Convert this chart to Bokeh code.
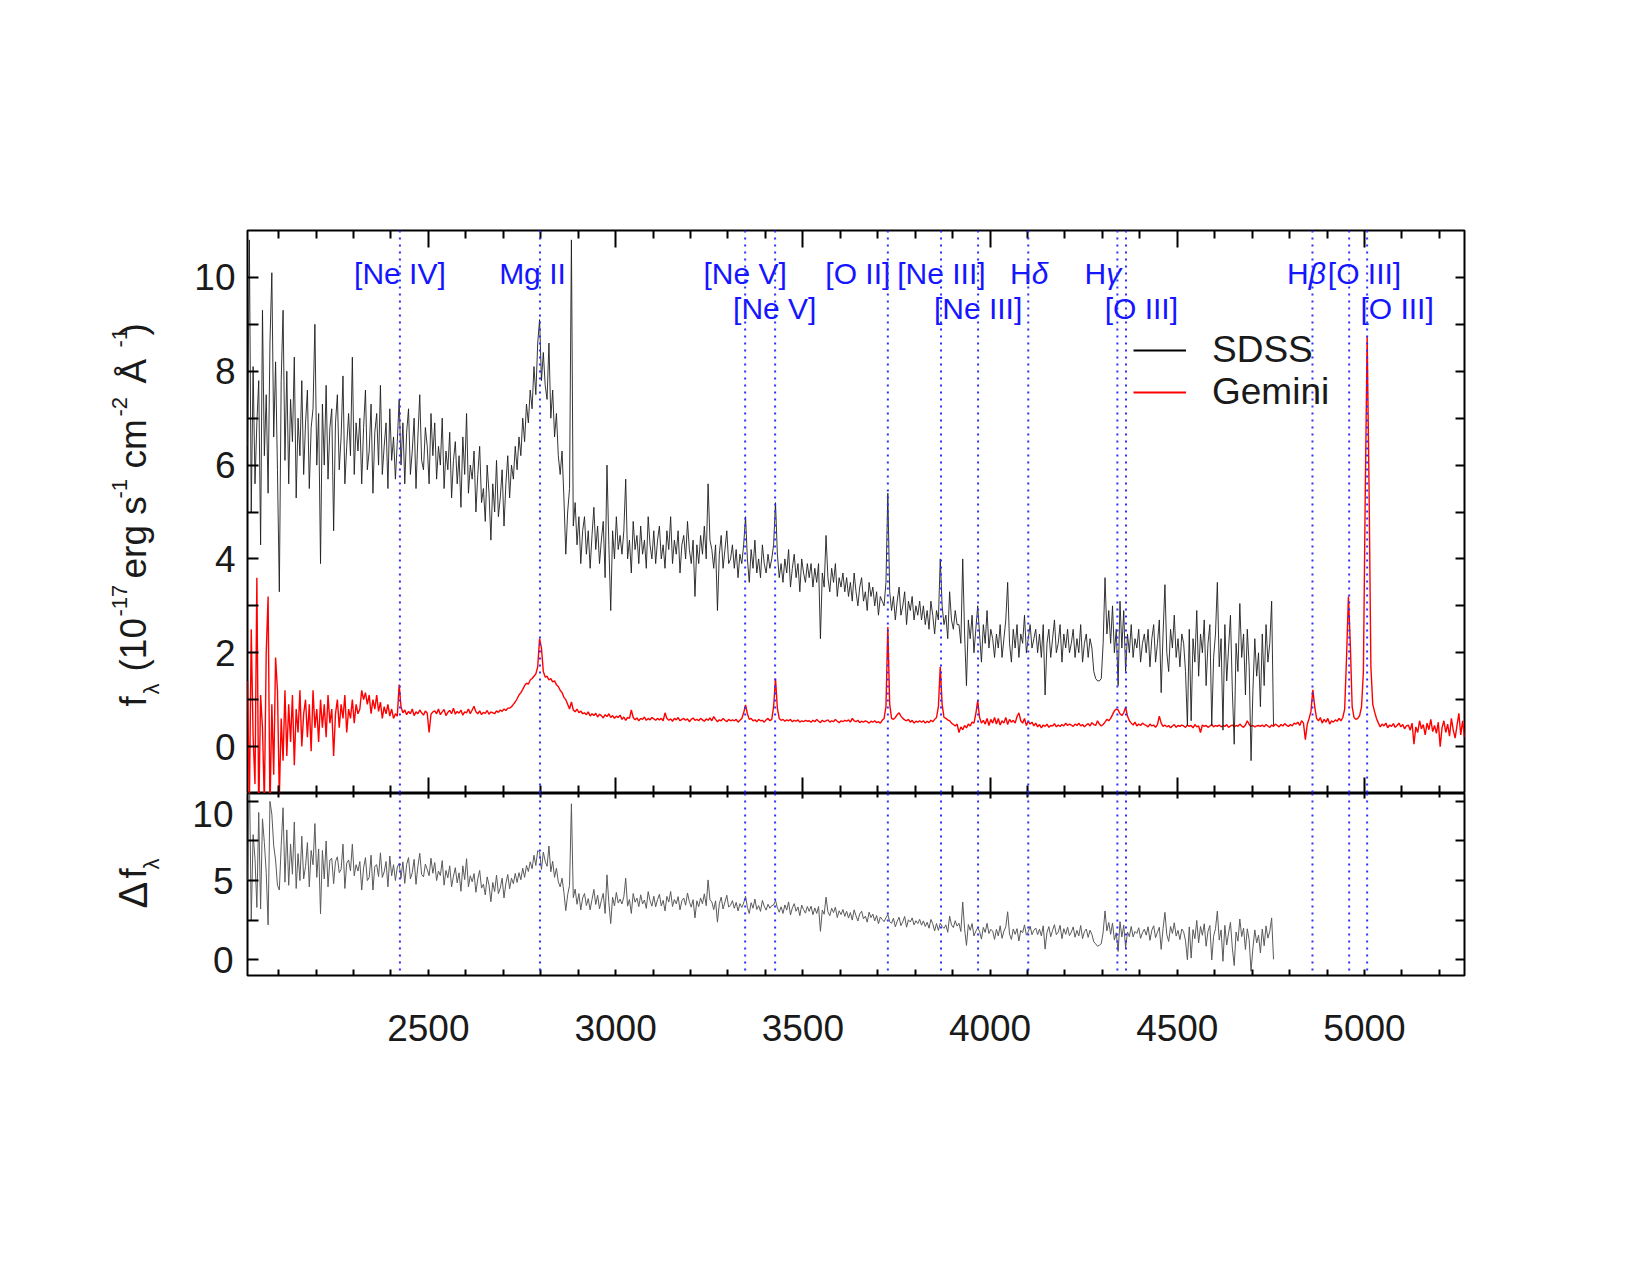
import numpy as np
from bokeh.plotting import figure
from bokeh.layouts import column, row
from bokeh.models import (LinearAxis, FixedTicker, Span, Legend, LegendItem,
                          ColumnDataSource, Range1d, CustomLabelingPolicy)
from bokeh.embed import file_html
from bokeh.resources import INLINE
from bokeh.core.properties import value

# ---------------- data ----------------
WAVE_START = 2017   # Angstrom, first sample
WAVE_STEP = 5       # Angstrom per sample

sdss_flux = [
    6.4, 10.8, 5.0, 8.1, 5.6, 6.9, 7.8, 4.3, 9.3, 6.2, 7.5, 5.4, 8.6, 10.1, 6.6, 8.2, 5.9, 3.3, 7.8, 9.3,
    6.1, 8.0, 5.6, 7.4, 6.5, 8.3, 5.3, 7.0, 6.2, 7.8, 5.8, 6.9, 7.6, 5.5, 6.8, 7.2, 9.0, 6.0, 7.1, 3.9,
    7.3, 6.0, 7.7, 5.7, 6.8, 7.2, 4.6, 6.9, 7.5, 5.9, 6.6, 7.9, 5.6, 6.4, 7.1, 6.2, 8.3, 5.8, 6.9, 6.3,
    7.0, 5.6, 6.8, 7.6, 5.9, 6.3, 7.3, 5.4, 6.7, 7.1, 6.0, 7.7, 5.8, 6.4, 6.9, 5.5, 7.2, 6.1, 6.6, 5.7,
    6.5, 7.4, 6.0, 6.9, 5.6, 6.7, 7.2, 5.8, 6.3, 7.0, 5.5, 6.6, 7.5, 6.1, 5.9, 6.8, 6.4, 5.6, 7.1, 6.2,
    6.9, 5.7, 6.4, 6.0, 7.0, 5.5, 6.3, 5.9, 6.7, 5.3, 6.1, 6.5, 5.6, 6.2, 5.1, 6.6, 5.8, 7.1, 5.4, 6.0,
    5.7, 6.3, 5.0, 5.8, 6.4, 5.2, 5.5, 4.8, 6.0, 5.4, 4.4, 5.6, 5.0, 6.1, 4.9, 5.3, 5.9, 4.7, 5.6, 6.2,
    5.3, 6.0, 5.7, 6.4, 5.9, 6.6, 6.2, 7.0, 6.5, 7.3, 6.9, 7.6, 7.2, 8.1, 7.5, 8.6, 9.1, 7.8, 8.4, 7.7,
    7.4, 8.6, 7.0, 7.6, 6.6, 7.1, 6.2, 5.8, 6.3, 5.3, 4.1, 5.0, 5.5, 10.8, 4.7, 5.2, 4.3, 4.9, 3.9, 4.6,
    4.9, 4.1, 4.6, 3.8, 4.5, 5.1, 4.2, 4.7, 3.9, 4.4, 4.8, 3.6, 6.0, 4.3, 2.9, 4.6, 4.0, 4.9, 4.2, 4.5,
    4.1, 4.6, 5.7, 4.0, 4.4, 3.7, 4.8, 4.2, 4.5, 3.9, 4.7, 4.1, 4.4, 3.8, 4.9, 4.3, 4.0, 4.6, 3.9, 4.4,
    4.7, 4.0, 4.3, 3.8, 4.6, 4.2, 4.9, 3.9, 4.4, 4.1, 4.6, 3.7, 4.3, 4.5, 4.0, 4.8, 4.2, 3.9, 4.4, 3.2,
    4.3, 3.9, 4.5, 4.1, 4.7, 4.0, 5.6, 4.4, 4.2, 3.8, 4.3, 2.9, 4.1, 4.5, 3.8, 4.2, 4.6, 3.9, 4.0, 4.3,
    3.8, 4.2, 3.6, 4.1, 3.9, 4.3, 4.9, 4.0, 3.5, 4.2, 3.8, 4.4, 3.7, 4.0, 3.6, 4.3, 3.9, 3.7, 4.1, 3.8,
    4.0, 4.3, 5.2, 4.1, 3.6, 3.9, 3.5, 4.0, 3.7, 4.2, 3.4, 3.8, 4.1, 3.6, 3.9, 3.3, 4.0, 3.7, 3.5, 3.9,
    3.6, 3.9, 3.4, 3.8, 3.5, 3.9, 2.3, 3.7, 3.4, 4.5, 3.6, 3.3, 3.8, 3.5, 3.9, 3.2, 3.6, 3.4, 3.7, 3.3,
    3.6, 3.2, 3.5, 3.1, 3.7, 3.3, 3.0, 3.4, 3.6, 3.1, 3.3, 2.9, 3.5, 3.2, 3.4, 3.0, 3.3, 2.8, 3.2, 3.1,
    3.0, 3.5, 5.4, 3.3, 2.9, 3.2, 2.7, 3.1, 3.4, 2.8, 3.0, 3.3, 2.6, 3.1, 2.9, 3.2, 2.7, 3.0, 2.8, 3.1,
    2.7, 3.0, 2.6, 2.9, 2.5, 3.1, 2.8, 2.4, 2.9, 2.7, 4.0, 3.0, 2.6, 2.8, 2.3, 3.3, 2.7, 2.5, 2.9, 2.6,
    2.6, 2.2, 4.0, 2.4, 1.3, 2.7, 2.3, 2.8, 2.0, 2.5, 3.0, 2.4, 1.8, 2.6, 2.2, 2.9, 2.1, 2.5, 2.3, 1.9,
    2.4, 2.1, 2.6, 1.9, 2.3, 2.7, 3.5, 2.2, 1.8, 2.5, 2.1, 2.6, 1.9, 2.4, 2.2, 2.8, 2.0, 2.3, 2.6, 2.1,
    2.3, 2.5, 2.0, 2.4, 1.9, 2.6, 1.1, 2.2, 2.5, 1.9, 2.3, 2.7, 2.0, 2.2, 2.6, 1.8, 2.4, 2.1, 2.5, 2.0,
    2.2, 2.5, 1.9, 2.3, 2.0, 2.6, 1.8, 2.2, 2.4, 1.9, 2.3, 2.1, 1.6, 1.45, 1.4, 1.4, 1.45, 2.2, 3.6, 2.4,
    2.9, 2.2, 3.0, 2.0, 2.5, 1.3, 3.1, 2.1, 2.9, 1.6, 2.4, 2.0, 2.6, 1.9, 2.3, 2.1, 2.5, 1.8, 2.2, 2.4,
    2.0, 2.5, 1.7, 2.3, 2.6, 1.8, 2.2, 2.7, 1.15, 2.4, 3.45, 2.0, 1.6, 2.5, 2.1, 2.8, 1.9, 2.3, 1.7, 2.4,
    2.2, 1.6, 0.45, 2.5, 0.55, 2.3, 1.8, 2.9, 1.5, 2.4, 2.0, 2.7, 1.3, 2.2, 2.6, 0.45, 1.9, 2.4, 3.5, 1.7,
    2.3, 0.35, 2.6, 1.4, 2.1, 2.8, 1.2, 0.05, 2.2, 1.6, 3.05, 1.9, 2.4, 1.1, 2.5, 1.7, -0.3, 1.2, 2.3, 1.5,
    2.0, 0.85, 2.4, 1.3, 2.6, 1.8, 2.2, 3.1, 0.45,
]

gemini_flux = [
    1.4, -1.3, 2.5, 0.2, -0.8, 3.6, -1.5, 1.1, 0.4, -1.2, 2.0, 3.2, -1.4, 0.9, -0.6, 1.9, 1.2, -1.1, 0.6, -0.3,
    1.2, -0.2, 0.9, 0.1, 1.1, -0.4, 0.8, 0.3, 1.2, 0.0, 0.7, 1.0, 0.2, 0.9, -0.1, 1.2, 0.4, 0.8, 0.1, 1.0,
    0.4, 0.9, 0.2, 1.1, 0.5, 0.8, -0.2, 0.7, 1.0, 0.4, 0.9, 0.6, 1.1, 0.3, 0.8, 0.6, 1.0, 0.5, 0.9, 0.7,
    0.8, 1.2, 1.0, 1.15, 0.9, 1.1, 0.7, 1.0, 0.8, 1.1, 0.75, 0.95, 0.6, 0.85, 0.7, 0.9, 0.65, 0.8, 0.6, 0.7,
    0.65, 1.32, 0.85, 0.72, 0.78, 0.68, 0.75, 0.7, 0.8, 0.66, 0.74, 0.7, 0.78, 0.72, 0.67, 0.76, 0.71, 0.3, 0.69, 0.74,
    0.76, 0.7, 0.8, 0.68, 0.74, 0.79, 0.66, 0.73, 0.77, 0.7, 0.82, 0.69, 0.75, 0.71, 0.78, 0.67, 0.74, 0.72, 0.8, 0.7,
    0.78, 0.86, 0.74, 0.7, 0.76, 0.68, 0.73, 0.71, 0.77, 0.69, 0.74, 0.72, 0.7, 0.76, 0.73, 0.78, 0.75, 0.8, 0.77, 0.82,
    0.82, 0.85, 0.9, 0.95, 1.02, 1.1, 1.15, 1.22, 1.3, 1.35, 1.33, 1.42, 1.45, 1.5, 1.55, 1.7, 2.3, 2.1, 1.6, 1.48,
    1.5, 1.42, 1.45, 1.38, 1.4, 1.32, 1.28, 1.2, 1.15, 1.05, 1.0, 0.9, 0.8, 0.95, 0.78, 0.74, 0.8, 0.72, 0.76, 0.7,
    0.72, 0.68, 0.74, 0.65, 0.7, 0.66, 0.71, 0.63, 0.69, 0.66, 0.61, 0.68, 0.64, 0.7, 0.62, 0.66, 0.6, 0.65, 0.62, 0.67,
    0.58, 0.63, 0.56, 0.62, 0.6, 0.78, 0.62, 0.57, 0.61, 0.55, 0.6, 0.58, 0.63, 0.56, 0.6, 0.57, 0.62, 0.59, 0.56, 0.6,
    0.57, 0.6, 0.55, 0.72, 0.6, 0.56, 0.59, 0.54, 0.6, 0.57, 0.62, 0.55, 0.58, 0.6, 0.56, 0.59, 0.53, 0.58, 0.61, 0.56,
    0.58, 0.55, 0.6, 0.57, 0.54, 0.59, 0.56, 0.61, 0.55, 0.64, 0.58, 0.53, 0.57, 0.55, 0.6, 0.56, 0.53, 0.58, 0.55, 0.57,
    0.55, 0.58, 0.52, 0.56, 0.6, 0.72, 0.89, 0.7, 0.58, 0.6, 0.55, 0.57, 0.53, 0.58, 0.55, 0.56, 0.52, 0.57, 0.6, 0.55,
    0.58, 0.85, 1.45, 0.82, 0.6, 0.56, 0.58, 0.54, 0.57, 0.55, 0.58, 0.53, 0.56, 0.54, 0.57, 0.52, 0.55, 0.53, 0.56, 0.54,
    0.55, 0.52, 0.56, 0.53, 0.58, 0.54, 0.51, 0.56, 0.53, 0.55, 0.57, 0.52, 0.55, 0.53, 0.58, 0.54, 0.51, 0.55, 0.53, 0.56,
    0.54, 0.57, 0.52, 0.6, 0.55, 0.53, 0.56, 0.51, 0.54, 0.52, 0.55, 0.53, 0.5, 0.54, 0.52, 0.55, 0.51, 0.53, 0.5, 0.56,
    0.6, 0.85, 2.55, 0.9, 0.6, 0.58, 0.62, 0.68, 0.72, 0.65, 0.6, 0.57, 0.55, 0.58, 0.52, 0.56, 0.5, 0.54, 0.52, 0.55,
    0.52, 0.55, 0.5, 0.54, 0.51, 0.56, 0.53, 0.58, 0.62, 0.85, 1.7, 0.9, 0.62, 0.6, 0.57, 0.55, 0.5, 0.47, 0.44, 0.48,
    0.3, 0.42, 0.36, 0.45, 0.4, 0.48, 0.44, 0.52, 0.5, 0.7, 0.98, 0.62, 0.5, 0.56, 0.48, 0.6, 0.45, 0.58, 0.5, 0.62,
    0.48, 0.6, 0.46, 0.55, 0.5, 0.62, 0.47, 0.58, 0.52, 0.56, 0.5, 0.64, 0.72, 0.55, 0.5, 0.6, 0.45, 0.54, 0.48, 0.52,
    0.44, 0.5, 0.42, 0.47, 0.4, 0.46, 0.43, 0.48, 0.41, 0.45, 0.44, 0.49, 0.42, 0.46, 0.43, 0.47, 0.44, 0.5, 0.45, 0.48,
    0.46, 0.43, 0.48, 0.45, 0.5, 0.44, 0.47, 0.42, 0.46, 0.49, 0.44, 0.51, 0.47, 0.45, 0.55, 0.48, 0.44, 0.47, 0.52, 0.58,
    0.55, 0.6, 0.68, 0.76, 0.8, 0.78, 0.7, 0.66, 0.72, 0.84, 0.65, 0.55, 0.5, 0.46, 0.52, 0.44, 0.48, 0.45, 0.5, 0.47,
    0.45, 0.42, 0.48, 0.44, 0.46, 0.41, 0.47, 0.65, 0.5, 0.43, 0.46, 0.42, 0.45, 0.4, 0.44, 0.47, 0.41, 0.45, 0.43, 0.46,
    0.44, 0.41, 0.46, 0.43, 0.45, 0.4, 0.47, 0.42, 0.44, 0.3, 0.46, 0.43, 0.45, 0.41, 0.44, 0.47, 0.42, 0.45, 0.43, 0.46,
    0.42, 0.45, 0.43, 0.47, 0.41, 0.44, 0.46, 0.42, 0.45, 0.43, 0.48, 0.44, 0.41, 0.46, 0.55, 0.47, 0.43, 0.45, 0.42, 0.44,
    0.45, 0.43, 0.46, 0.42, 0.47, 0.44, 0.41, 0.46, 0.43, 0.48, 0.45, 0.42, 0.47, 0.44, 0.49, 0.45, 0.43, 0.47, 0.44, 0.5,
    0.48, 0.52, 0.45, 0.55, 0.5, 0.15, 0.47, 0.6, 0.75, 1.21, 0.85, 0.6, 0.55, 0.62, 0.5, 0.58, 0.52, 0.6, 0.48, 0.55,
    0.52, 0.57, 0.54, 0.6, 0.55, 0.62, 0.8, 1.9, 3.2, 2.2, 0.85, 0.62, 0.58, 0.6, 0.66, 0.85, 1.6, 5.4, 8.75, 5.6,
    1.7, 0.9, 0.74, 0.6, 0.5, 0.42, 0.48, 0.44, 0.5, 0.4, 0.46, 0.43, 0.49, 0.41, 0.45, 0.5, 0.42, 0.47, 0.38, 0.44,
    0.46, 0.35, 0.5, 0.05, 0.42, 0.3, 0.55, 0.38, 0.47, 0.25, 0.5, 0.36, 0.58, 0.32, 0.45, 0.28, 0.52, 0.0, 0.4, 0.55,
    0.3, 0.48, 0.22, 0.6, 0.35, 0.18, 0.45, 0.71, 0.25, 0.55, 0.2,
]

# emission-line markers
line_names = ["[Ne IV]", "Mg II", "[Ne V]", "[Ne V]", "[O II]", "[Ne III]", "[Ne III]",
              "H", "H", "[O III]", "H", "[O III]", "[O III]"]
line_greek = ["", "", "", "", "", "", "", "\u03b4", "\u03b3", "", "\u03b2", "", ""]
line_waves = [2424, 2798, 3346, 3426, 3727, 3869, 3968, 4102, 4340, 4363, 4861, 4959, 5007]
label_waves = [2424, 2778, 3346, 3425, 3647, 3870, 3968, 4103, 4302, 4404, 4843, 5000, 5087]
label_rows = [1, 1, 1, 2, 1, 1, 2, 1, 1, 2, 1, 1, 2]

x_ticks = [2500, 3000, 3500, 4000, 4500, 5000]
x_minor = [w for w in range(2100, 5300, 100) if w % 500]
top_yticks = [0, 2, 4, 6, 8, 10]
top_yminor = [1, 3, 5, 7, 9]
bot_yticks = [0, 5, 10]
bot_yminor = [2.5, 7.5]

# y titles, split into pieces for sub/superscripts:
# (text, font px, baseline shift px, start y on page)
SUP, SUB = -21, 11
upper_title = [
    ("f", 37, 0, 706), ("\u03bb", 22, SUB, 694), ("(10", 37, 0, 671), ("-17", 22, SUP, 616),
    ("erg s", 37, 0, 578), ("-1", 22, SUP, 498), ("cm", 37, 0, 468), ("-2", 22, SUP, 416),
    ("\u00c5", 37, 0, 383), ("-1", 22, SUP, 347), (")", 37, 0, 335),
]
lower_title = [("\u0394", 40, 0, 908), ("f", 37, 0, 878), ("\u03bb", 22, SUB, 869)]

# ---------------- derived ----------------
wave_sdss = WAVE_START + WAVE_STEP * np.arange(len(sdss_flux))
wave_gem = WAVE_START + WAVE_STEP * np.arange(len(gemini_flux))
sdss = np.array(sdss_flux)
gem = np.array(gemini_flux)
dflux = sdss - gem[:len(sdss)]

FONT = "Liberation Sans"
FS = "37px"
TXT = "#1a1a1a"
LINE_BLUE = "#2f2fff"
LABEL_BLUE = "#1515ff"
XMIN, XMAX = 2017, 5267
TITLE_W = 177          # width of the strip that carries the rotated y titles
BASELINE_X = 150       # page x of the titles' baseline
ANCHOR_FRAC = 0.45     # rotated-text anchor correction, in em

XR = Range1d(XMIN, XMAX)
NO_LABELS = CustomLabelingPolicy(code="return new Set()")


def add_axis(p, side, ticks, minor, major_in, minor_in, labels=False, standoff=0,
             overrides=None):
    ax = LinearAxis(ticker=FixedTicker(ticks=ticks, minor_ticks=minor))
    ax.axis_line_color = None
    ax.major_tick_in = major_in
    ax.major_tick_out = 0
    ax.minor_tick_in = minor_in
    ax.minor_tick_out = 0
    ax.major_tick_line_width = 2
    ax.minor_tick_line_width = 2
    ax.major_tick_line_color = "black" if major_in else None
    ax.minor_tick_line_color = "black" if minor_in else None
    if labels:
        ax.major_label_text_font = FONT
        ax.major_label_text_font_size = FS
        ax.major_label_text_color = TXT
        ax.major_label_standoff = standoff
        if overrides:
            ax.major_label_overrides = overrides
    else:
        ax.major_label_text_font_size = "0px"
        ax.major_label_standoff = 0
        ax.major_label_policy = NO_LABELS
    p.add_layout(ax, side)
    return ax


def style(p):
    p.grid.visible = False
    p.outline_line_color = "black"
    p.outline_line_width = 2
    p.background_fill_color = "white"
    p.border_fill_color = "white"


# ---------------- title strip (rotated y titles) ----------------
pt = figure(width=TITLE_W, height=1275, x_range=Range1d(0, TITLE_W), y_range=Range1d(1275, 0),
            min_border=0, x_axis_location=None, y_axis_location=None,
            output_backend="svg", toolbar_location=None)
pt.grid.visible = False
pt.outline_line_color = None
pt.background_fill_color = "white"
pt.border_fill_color = "white"
pieces = upper_title + lower_title
for size in sorted({pc[1] for pc in pieces}):
    sel = [pc for pc in pieces if pc[1] == size]
    src = ColumnDataSource(dict(x=[BASELINE_X + pc[2] - ANCHOR_FRAC * size for pc in sel],
                                y=[pc[3] for pc in sel],
                                text=[pc[0] for pc in sel]))
    pt.text(x="x", y="y", text="text", source=src, angle=np.pi / 2,
            text_font=value(FONT), text_font_size=f"{size}px", text_color=TXT,
            text_align="left", text_baseline="alphabetic")

# ---------------- upper panel ----------------
p1 = figure(frame_width=1217, frame_height=563, x_range=XR, y_range=Range1d(-1, 11),
            min_border_left=247 - TITLE_W, min_border_right=186, min_border_top=230,
            min_border_bottom=0, x_axis_location=None, y_axis_location=None,
            output_backend="svg", toolbar_location=None)
style(p1)

add_axis(p1, "left", top_yticks, top_yminor, 11, 11, labels=True, standoff=12)
add_axis(p1, "right", list(range(0, 11)), [], 9, 9)
add_axis(p1, "above", x_ticks, x_minor, 17, 8)
add_axis(p1, "below", x_ticks, x_minor, 16, 8)

for w in line_waves:
    p1.add_layout(Span(location=w, dimension="height", line_color=LINE_BLUE,
                       line_dash="2 5", line_width=2))

p1.line(wave_gem, gem, line_color="#ff0000", line_width=1.4)
p1.line(wave_sdss, sdss, line_color="#1e1e1e", line_width=0.9)

row_y = {1: 10.09, 2: 9.34}
plain = [i for i in range(len(line_names)) if not line_greek[i]]
greek = [i for i in range(len(line_names)) if line_greek[i]]
src_plain = ColumnDataSource(dict(x=[label_waves[i] for i in plain],
                                  y=[row_y[label_rows[i]] for i in plain],
                                  text=[line_names[i] for i in plain]))
src_h = ColumnDataSource(dict(x=[label_waves[i] for i in greek],
                              y=[row_y[label_rows[i]] for i in greek],
                              text=[line_names[i] for i in greek]))
src_g = ColumnDataSource(dict(x=[label_waves[i] for i in greek],
                              y=[row_y[label_rows[i]] for i in greek],
                              text=[line_greek[i] for i in greek]))
common = dict(text_font=value(FONT), text_font_size="30px", text_color=LABEL_BLUE,
              text_baseline="middle")
p1.text(x="x", y="y", text="text", source=src_plain, text_align="center", **common)
p1.text(x="x", y="y", text="text", source=src_h, text_align="right", x_offset=3, **common)
p1.text(x="x", y="y", text="text", source=src_g, text_align="left", x_offset=3,
        text_font_style="italic", **common)

r_s = p1.line(x=[np.nan], y=[np.nan], line_color="black", line_width=2)
r_g = p1.line(x=[np.nan], y=[np.nan], line_color="#ff0000", line_width=2)
legend = Legend(items=[LegendItem(label="SDSS", renderers=[r_s]),
                       LegendItem(label="Gemini", renderers=[r_g])],
                location=(886, 380), label_text_font=FONT, label_text_font_size=FS,
                label_text_color=TXT, glyph_width=53, glyph_height=42, label_height=42,
                label_standoff=26, padding=0, spacing=0, margin=0,
                border_line_alpha=0, background_fill_alpha=0)
p1.add_layout(legend)

# ---------------- lower panel ----------------
p2 = figure(frame_width=1217, frame_height=182, x_range=XR, y_range=Range1d(-1, 10.5),
            min_border_left=247 - TITLE_W, min_border_right=186, min_border_top=0,
            min_border_bottom=300, x_axis_location=None, y_axis_location=None,
            output_backend="svg", toolbar_location=None)
style(p2)

# tick marks of the lower left axis, and its labels (the top label sits a little low)
add_axis(p2, "left", bot_yticks, bot_yminor, 11, 11)
add_axis(p2, "left", [0, 5, 9.2], [], 0, 0, labels=True, standoff=14,
         overrides={9.2: "10"})
add_axis(p2, "right", bot_yticks, bot_yminor, 9, 9)
add_axis(p2, "above", x_ticks, x_minor, 5, 4)
add_axis(p2, "below", x_ticks, x_minor, 6, 6, labels=True, standoff=39)

for w in line_waves:
    p2.add_layout(Span(location=w, dimension="height", line_color=LINE_BLUE,
                       line_dash="2 5", line_width=2))

p2.line(wave_sdss, dflux, line_color="#5a5a5a", line_width=1)

layout = row(pt, column(p1, p2, spacing=0), spacing=0)
open("out.html", "w").write(file_html(layout, INLINE))
